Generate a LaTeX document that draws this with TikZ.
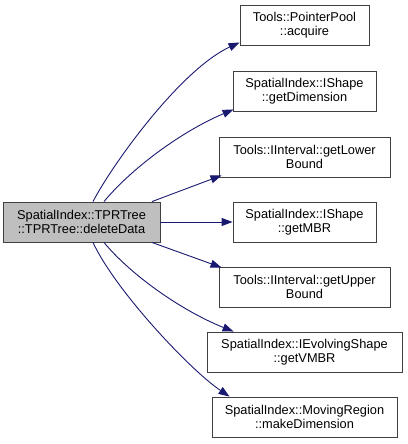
\documentclass[tikz,border=0pt]{standalone}
\usepackage{fontspec}
\setmainfont{Liberation Sans}
\usetikzlibrary{arrows.meta}
\definecolor{edgeblue}{HTML}{191970}
\definecolor{boxborder}{HTML}{404040}
\definecolor{srcfill}{HTML}{BFBFBF}
\tikzset{
  fn/.style={draw=boxborder, line width=0.9pt, fill=white, align=center, inner sep=0pt,
    minimum height=40pt, font=\fontsize{12.8}{14.5}\selectfont, text=black},
  srcbox/.style={fn, fill=srcfill},
  call/.style={draw=edgeblue, line width=0.9pt, -{Triangle[length=11pt,width=8pt]}}
}
\begin{document}
\begin{tikzpicture}[x=1pt,y=-1pt]
\useasboundingbox (0,0) rectangle (407,444);
\node[srcbox, minimum width=157pt] (src) at (81.5,222) {SpatialIndex::TPRTree\\::TPRTree::deleteData};
\node[fn, minimum width=129pt] (n1) at (304.5,25) {Tools::PointerPool\\::acquire};
\node[fn, minimum width=143pt] (n2) at (304.5,91) {SpatialIndex::IShape\\::getDimension};
\node[fn, minimum width=171pt] (n3) at (304.5,157) {Tools::IInterval::getLower\\Bound};
\node[fn, minimum width=143pt] (n4) at (304.5,222) {SpatialIndex::IShape\\::getMBR};
\node[fn, minimum width=171pt] (n5) at (304.5,287) {Tools::IInterval::getUpper\\Bound};
\node[fn, minimum width=195pt] (n6) at (304.5,352) {SpatialIndex::IEvolvingShape\\::getVMBR};
\node[fn, minimum width=185pt] (n7) at (304.5,417) {SpatialIndex::MovingRegion\\::makeDimension};

\draw[call] ([xshift=11.5pt]src.north) .. controls (112,165) and (180,70) .. ([yshift=3pt]n1.south west);
\draw[call] ([xshift=22.5pt]src.north) .. controls (130,170) and (180,132) .. ([xshift=1pt,yshift=2pt]n2.south west);
\draw[call] ([xshift=70.5pt]src.north) -- ([xshift=3pt,yshift=2pt]n3.south west);
\draw[call] (src.east) -- (n4.west);
\draw[call] ([xshift=70.5pt]src.south) -- ([xshift=3pt,yshift=-1pt]n5.north west);
\draw[call] ([xshift=22.5pt]src.south) .. controls (130,274) and (180,310) .. ([xshift=27pt]n6.north west);
\draw[call] ([xshift=11.5pt]src.south) .. controls (115,290) and (190,370) .. ([xshift=18pt]n7.north west);
\end{tikzpicture}
\end{document}
